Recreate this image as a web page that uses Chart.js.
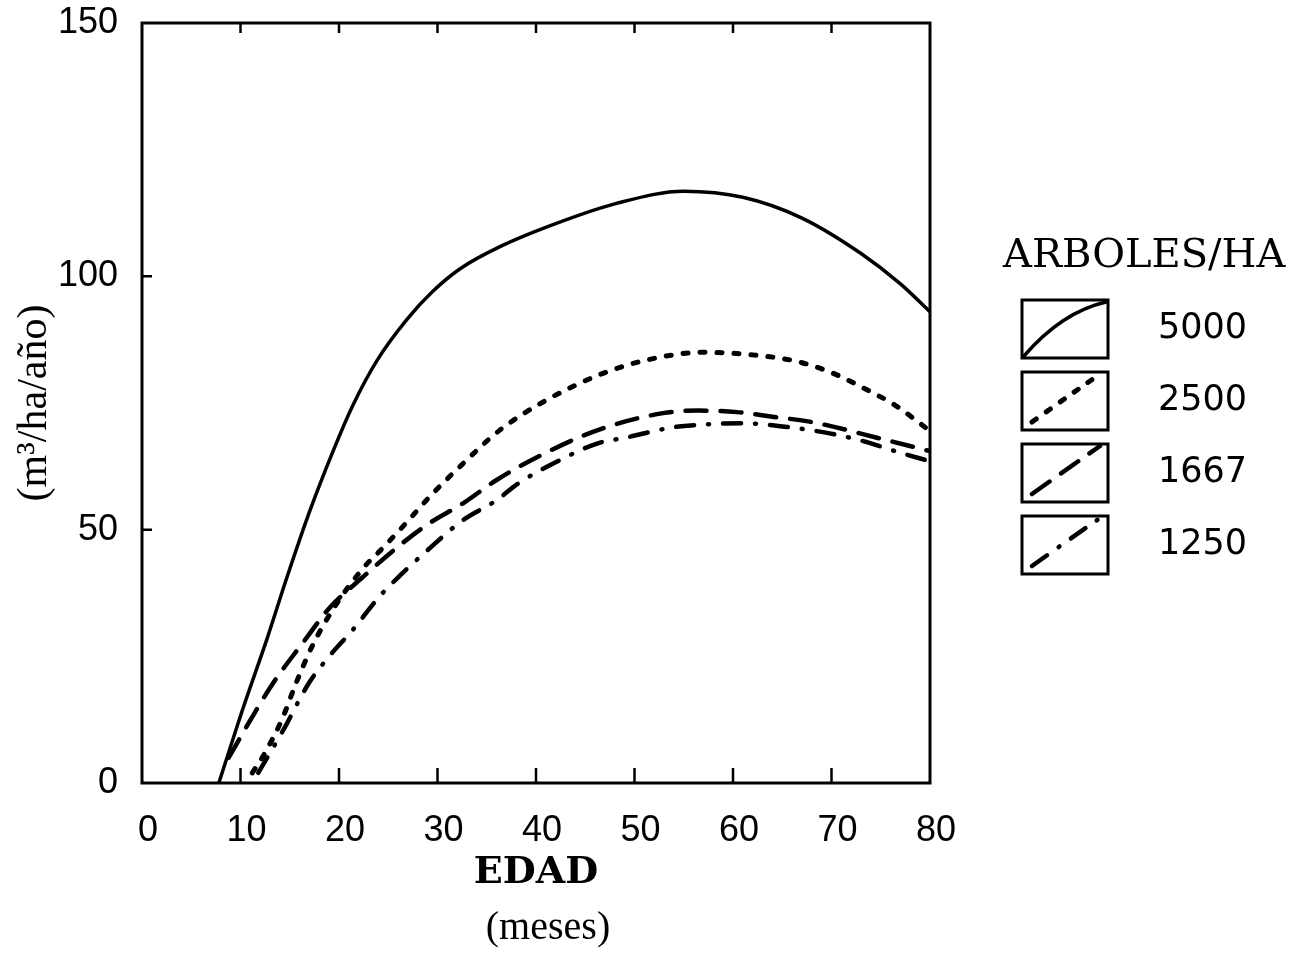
<!DOCTYPE html>
<html>
<head>
<meta charset="utf-8">
<script src="https://cdn.jsdelivr.net/npm/chart.js@4.4.1/dist/chart.umd.min.js"></script>
<style>
  html, body { margin: 0; padding: 0; background: #fff; }
  #wrap { width: 1310px; height: 958px; }
</style>
</head>
<body>
<div id="wrap"><canvas id="grafico"></canvas></div>
<script>
// densidades (arboles/ha)
const densidades = ['5000', '2500', '1667', '1250'];

// edad (meses) y volumen (m3/ha/año)
const edad5000 = [7.8, 10.3, 12.7, 14.7, 17, 19.4, 21.4, 23.9, 26.9, 29.5, 32.3, 36.5, 42, 48, 55, 61, 67, 73, 77, 80];
const vol5000  = [0, 15, 28.5, 40.5, 53.5, 65.5, 74.5, 83.5, 91.5, 97, 101.5, 106, 110.4, 114.3, 116.8, 115.6, 111.5, 104.5, 98.5, 93];

const edad2500 = [11.2, 12.5, 14.2, 15.7, 17.4, 19.8, 22.5, 24.5, 26.9, 29.2, 32.3, 36.3, 41, 47, 52, 57, 62, 66.5, 70, 73.2, 76.5, 80];
const vol2500  = [2, 6, 12.5, 20, 27.5, 35.5, 42.5, 46.5, 51.5, 56.5, 62.5, 69.6, 75.5, 81, 83.8, 85, 84.5, 83.2, 81, 78, 74.5, 69.5];

const edad1667 = [8.8, 11, 13.3, 16.3, 19.1, 22.4, 25.9, 29.2, 32.6, 36, 40.1, 46.2, 52.9, 56.5, 60.4, 64, 68.1, 74.9, 80];
const vol1667  = [5, 12.4, 19.7, 27.6, 34.7, 40.6, 46.5, 51.3, 55.2, 59.8, 64.3, 69.6, 73, 73.5, 73.2, 72.3, 71.2, 68, 65.5];

const edad1250 = [11.8, 14.5, 16.9, 19, 21.3, 24.2, 26.5, 28.9, 32.6, 36, 38.1, 42.4, 46.2, 49.2, 53.9, 57.5, 61, 65.8, 69.8, 72.6, 77.3, 80];
const vol1250  = [2, 11, 19.6, 25, 30, 37, 41.5, 45.8, 51.9, 55.8, 59, 63.7, 67, 68.2, 70.2, 70.8, 71, 70.2, 69, 67.8, 65, 63.5];

const ticksX = [0, 10, 20, 30, 40, 50, 60, 70, 80];
const ticksY = [0, 50, 100, 150];

const pares = (xs, ys) => xs.map((x, i) => ({ x: x, y: ys[i] }));

const estilos = [
  { dash: [], width: 3.5 },
  { dash: [5, 12], width: 5 },
  { dash: [21, 14], width: 4.5 },
  { dash: [18, 14, 1, 14], width: 4.5 }
];
const series = [[edad5000, vol5000], [edad2500, vol2500], [edad1667, vol1667], [edad1250, vol1250]];

// marco, marcas interiores, (meses) y leyenda
const extras = {
  id: 'extras',
  beforeDraw(chart) {
    const c = chart.ctx;
    c.save();
    c.fillStyle = '#fff';
    c.fillRect(0, 0, chart.width, chart.height);
    c.restore();
  },
  afterDraw(chart) {
    const c = chart.ctx;
    const a = chart.chartArea;
    const sx = chart.scales.x, sy = chart.scales.y;
    c.save();
    c.strokeStyle = '#000';
    c.lineWidth = 3;
    c.strokeRect(a.left, a.top, a.right - a.left, a.bottom - a.top);
    c.lineWidth = 2.5;
    c.beginPath();
    ticksX.slice(1, -1).forEach(v => {
      const p = sx.getPixelForValue(v);
      c.moveTo(p, a.bottom); c.lineTo(p, a.bottom - 15);
      c.moveTo(p, a.top); c.lineTo(p, a.top + 10);
    });
    ticksY.slice(1, -1).forEach(v => {
      const p = sy.getPixelForValue(v);
      c.moveTo(a.left, p); c.lineTo(a.left + 10, p);
    });
    c.stroke();

    c.fillStyle = '#000';
    c.textAlign = 'center';
    c.textBaseline = 'middle';
    c.font = '40px "Liberation Serif"';
    c.fillText('(meses)', (a.left + a.right) / 2 + 12, 928);

    // leyenda
    c.textAlign = 'left';
    c.font = '40px "DejaVu Serif"';
    c.fillText('ARBOLES/HA', 1003, 257);
    chart.data.datasets.forEach((ds, i) => {
      const bx = 1022, by = 300 + i * 72, bw = 86, bh = 58;
      c.setLineDash([]);
      c.lineWidth = 3;
      c.strokeRect(bx, by, bw, bh);
      c.save();
      c.beginPath();
      c.rect(bx, by, bw, bh);
      c.clip();
      c.setLineDash(ds.borderDash || []);
      c.lineCap = 'round';
      c.lineWidth = ds.borderWidth;
      c.beginPath();
      if (i === 0) {
        c.moveTo(bx + 2, by + bh - 2);
        c.quadraticCurveTo(bx + 40, by + 12, bx + bw - 2, by + 2);
      } else {
        c.moveTo(bx + 10, by + bh - 8);
        c.quadraticCurveTo(bx + 45, by + 25, bx + bw - 8, by + 2);
      }
      c.stroke();
      c.restore();
      c.font = '35px "DejaVu Sans"';
      c.fillText(ds.label, 1158, by + bh / 2);
    });
    c.restore();
  }
};

new Chart(document.getElementById('grafico'), {
  type: 'line',
  data: {
    datasets: densidades.map((d, i) => ({
      label: d,
      data: pares(series[i][0], series[i][1]),
      borderColor: '#000',
      borderWidth: estilos[i].width,
      borderDash: estilos[i].dash,
      borderCapStyle: 'round',
      pointRadius: 0,
      cubicInterpolationMode: 'monotone',
      fill: false
    }))
  },
  options: {
    responsive: true,
    maintainAspectRatio: false,
    devicePixelRatio: 1,
    animation: false,
    layout: { padding: { top: 23, right: 380, left: 0, bottom: 0 } },
    plugins: {
      legend: { display: false },
      tooltip: { enabled: false }
    },
    scales: {
      x: {
        type: 'linear',
        min: 0,
        max: 80,
        afterBuildTicks: s => { s.ticks = ticksX.map(v => ({ value: v })); },
        afterFit: s => { s.height = 175; s.paddingLeft = 0; s.paddingRight = 0; },
        grid: { display: false },
        border: { display: false },
        ticks: {
          color: '#000',
          padding: 18,
          labelOffset: 6,
          font: { family: '"Liberation Sans"', size: 36 }
        },
        title: {
          display: true,
          text: 'EDAD',
          color: '#000',
          padding: { top: 0, bottom: 62 },
          font: { family: '"DejaVu Serif"', size: 38, weight: 'bold' }
        }
      },
      y: {
        min: 0,
        max: 150,
        afterBuildTicks: s => { s.ticks = ticksY.map(v => ({ value: v })); },
        afterFit: s => { s.width = 142; s.paddingTop = 0; s.paddingBottom = 0; },
        grid: { display: false },
        border: { display: false },
        ticks: {
          color: '#000',
          padding: 16,
          font: { family: '"Liberation Sans"', size: 36 }
        },
        title: {
          display: true,
          text: '(m³/ha/año)',
          color: '#000',
          padding: { top: 10, bottom: 0 },
          font: { family: '"Liberation Serif"', size: 42 }
        }
      }
    }
  },
  plugins: [extras]
});
</script>
</body>
</html>
